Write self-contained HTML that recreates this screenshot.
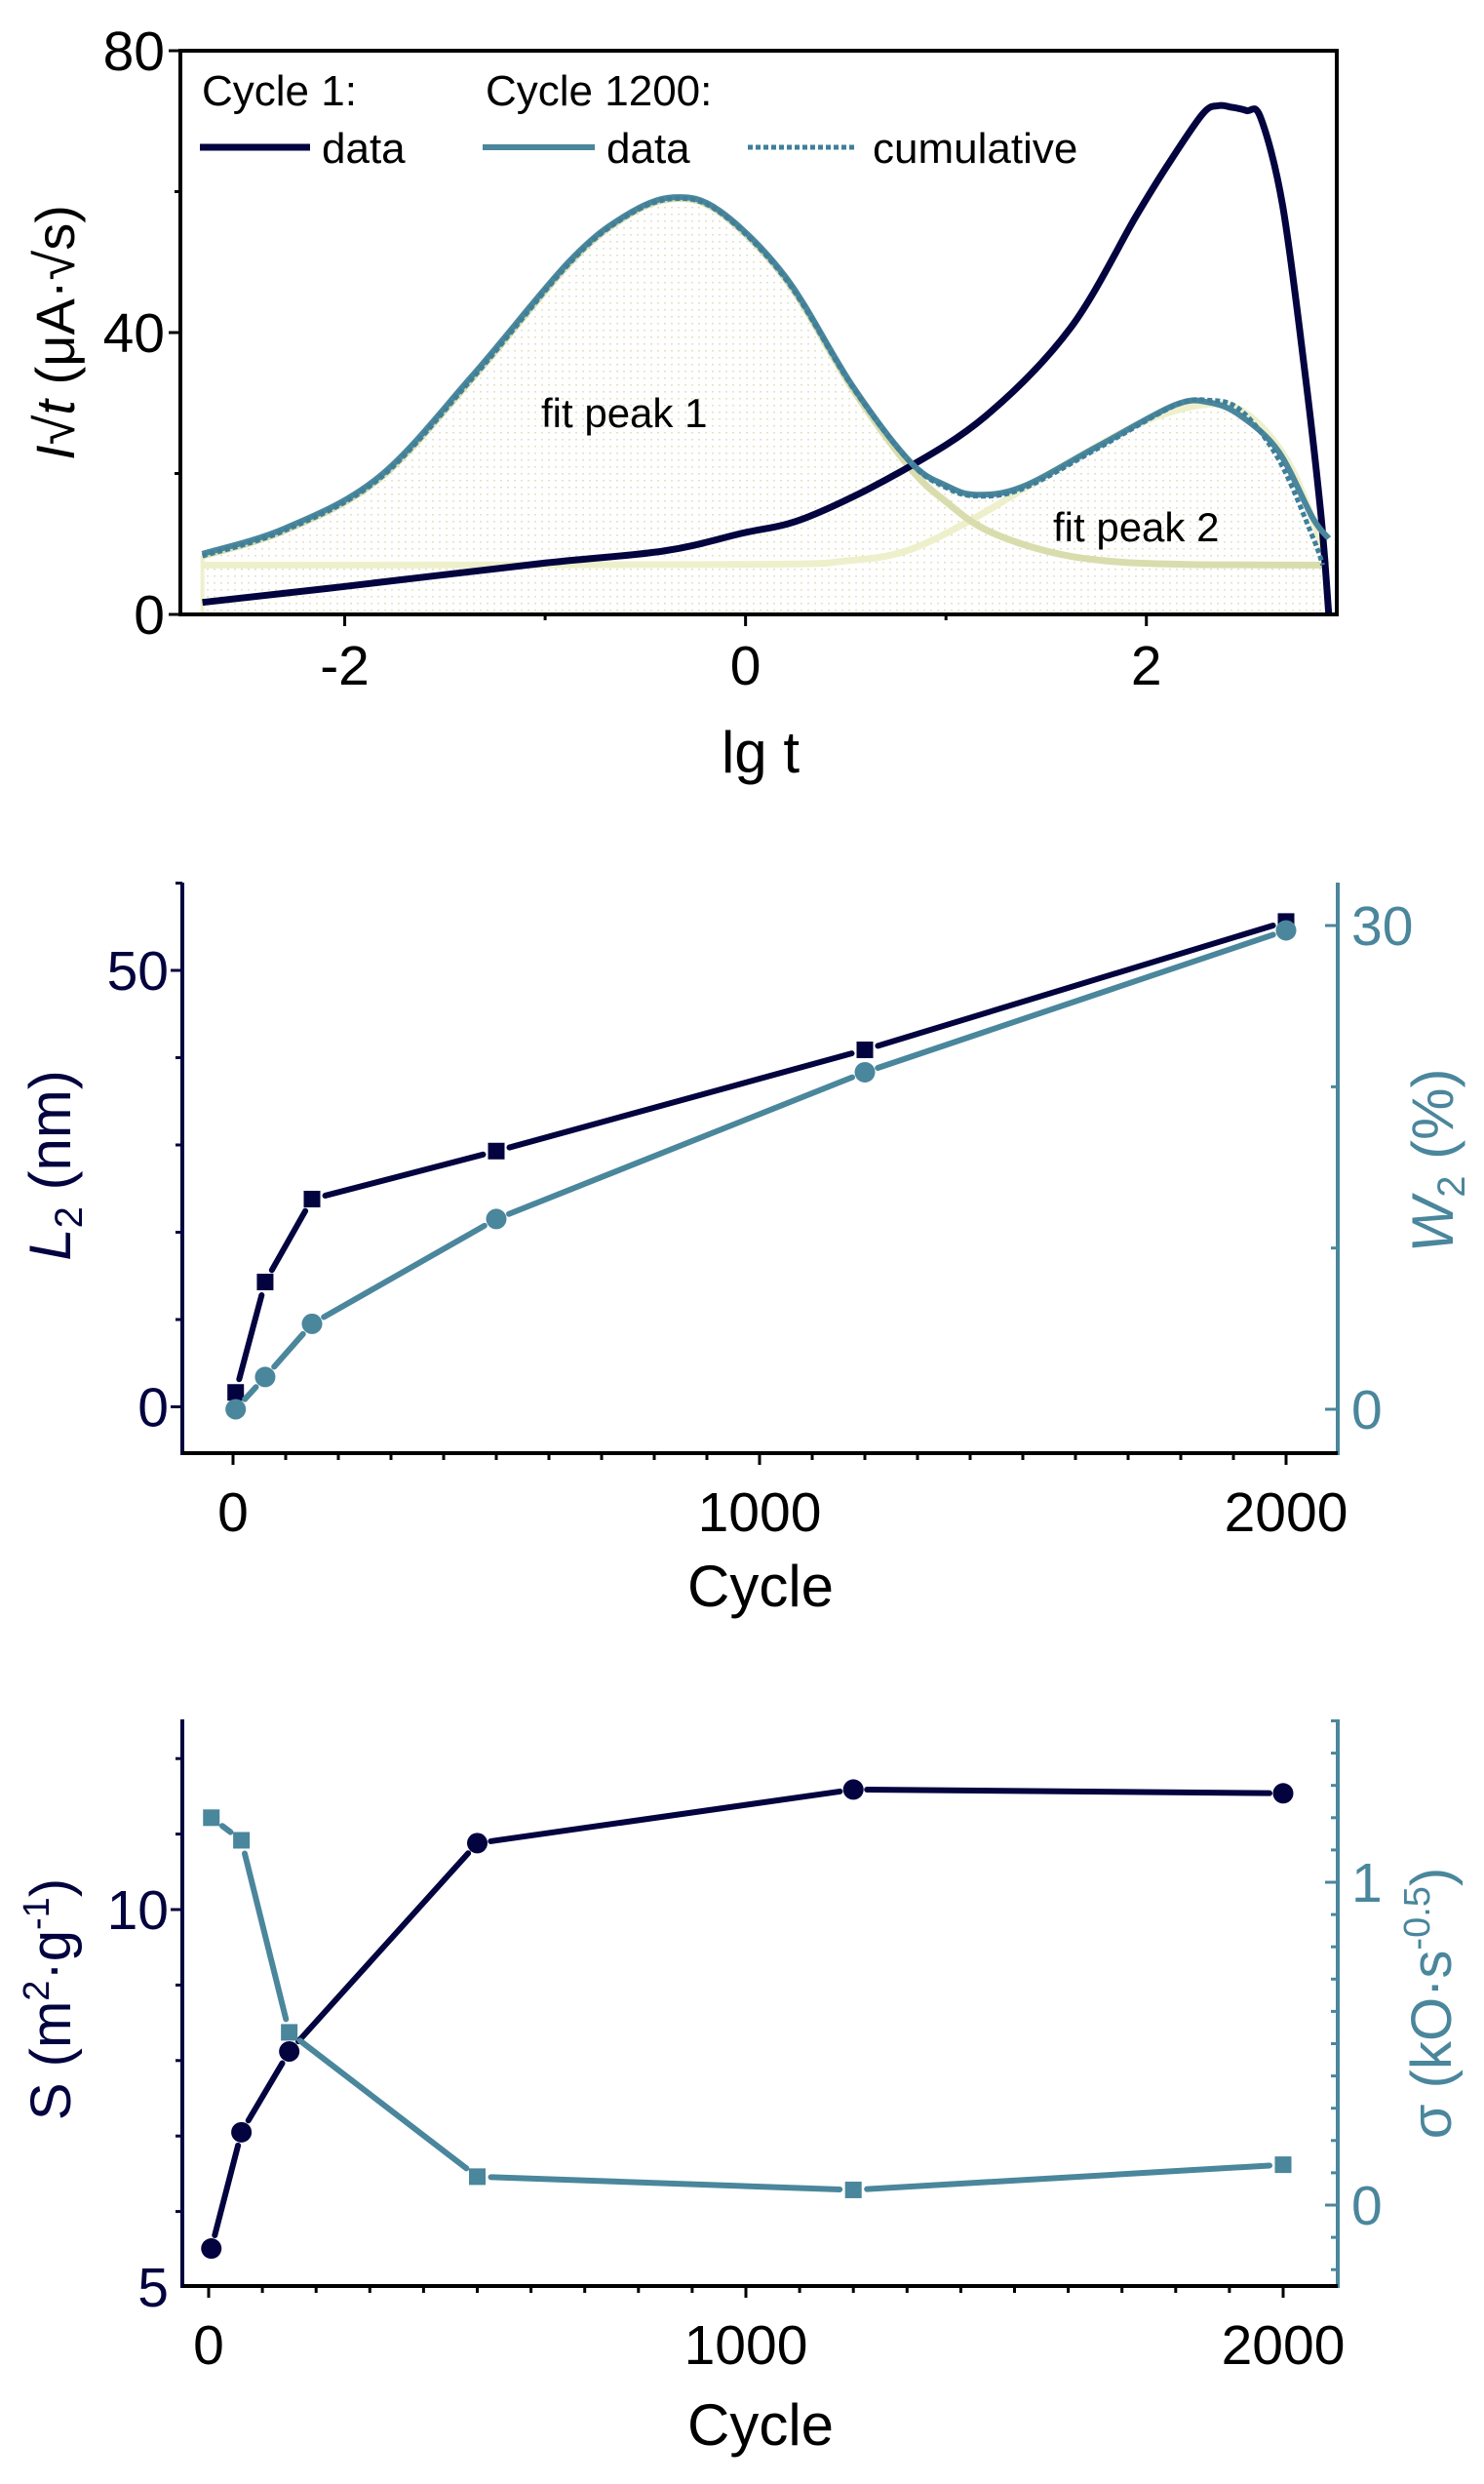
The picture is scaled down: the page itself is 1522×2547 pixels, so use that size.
<!DOCTYPE html>
<html><head><meta charset="utf-8">
<style>
html,body{margin:0;padding:0;background:#fff;}
svg{display:block;font-family:"Liberation Sans",Arial,sans-serif;}
</style></head>
<body>
<svg id="fig" width="1522" height="2547" viewBox="0 0 1522 2547" xmlns="http://www.w3.org/2000/svg">
<defs>
<pattern id="dots" width="7" height="7" patternUnits="userSpaceOnUse">
<rect x="2" y="2" width="2" height="1.5" fill="#e4e2c2"/>
</pattern>
</defs>
<g id="p1"></g>
<g id="p2"></g>
<g id="p3"></g>
</svg>
<script>
// ===== Panel 1 data (lg t, I*sqrt(t)) =====
const c1X = [-2.71,-2.02,-1.03,-0.41,-0.02,0.30,0.77,1.20,1.62,1.95,2.10,2.28,2.36,2.42,2.50,2.57,2.68,2.79,2.87,2.91];
const c1Y = [1.7,3.9,7.2,9.0,11.5,13.7,20.2,28.2,40.6,56.6,63.5,71.0,72.2,72.0,71.5,70.5,58.0,34.6,14.4,0];
const c1200X = [-2.71,-2.30,-1.83,-1.36,-0.88,-0.60,-0.36,-0.13,0.20,0.53,0.82,1.00,1.15,1.38,1.76,2.14,2.31,2.47,2.66,2.83,2.91];
const c1200Y = [8.6,12.2,19.5,34.0,50.1,56.6,59.2,57.3,47.9,32.6,21.7,18.3,17.0,18.1,23.9,29.7,30.1,28.2,23.1,13.7,10.8];
const cumX = [-2.71,-2.30,-1.83,-1.36,-0.88,-0.60,-0.36,-0.13,0.20,0.53,0.82,1.00,1.15,1.38,1.76,2.14,2.31,2.47,2.66,2.83,2.88];
const cumY = [8.3,11.9,19.2,33.6,49.8,56.4,59.0,57.1,47.6,32.4,21.6,18.0,16.8,17.8,23.6,29.6,30.4,29.0,22.0,11.0,7.0];
const fit1X = [-2.71,-2.30,-1.83,-1.36,-0.88,-0.60,-0.36,-0.13,0.20,0.53,0.82,1.00,1.20,1.50,1.80,2.20,2.90];
const fit1Y = [8.3,11.9,19.2,33.6,49.8,56.4,59.0,57.1,47.6,32.2,20.8,16.0,12.0,9.0,7.6,7.1,7.0];
const fit2X = [-2.71,0.00,0.50,0.80,1.10,1.40,1.70,2.00,2.30,2.50,2.70,2.85,2.90];
const fit2Y = [7.0,7.1,7.6,9.0,13.0,18.0,23.0,27.5,29.8,28.5,22.0,12.0,7.0];
const p1XTicks = [-2,0,2];
const p1YTicks = [0,40,80];

// ===== Panel 2 data =====
const p2Cycles = [5,61,150,500,1200,2000];
const l2Vals = [1.65,14.3,23.8,29.3,40.9,55.6];
const w2Cycles = [5,61,150,500,1200,2000];
const w2Vals = [0,2.0,5.3,11.8,20.9,29.7];
const p2XTicks = [0,1000,2000];
const p2LTicks = [0,50];
const p2RTicks = [0,30];

// ===== Panel 3 data =====
const sCycles = [5,61,150,500,1200,2000];
const sVals = [5.51,7.05,8.12,10.88,11.59,11.54];
const sigCycles = [5,61,150,500,1200,2000];
const sigVals = [1.20,1.13,0.535,0.088,0.047,0.125];
const p3XTicks = [0,1000,2000];
const p3LTicks = [5,10];
const p3RTicks = [0,1];

const NS="http://www.w3.org/2000/svg";
const NAVY="#03033f", TEAL="#4a869c";
function mk(parent,tag,attrs,text){const e=document.createElementNS(NS,tag);for(const k in attrs)e.setAttribute(k,attrs[k]);if(text!==undefined)e.textContent=text;parent.appendChild(e);return e;}
function lin(d0,d1,r0,r1){return v=>r0+(v-d0)*(r1-r0)/(d1-d0);}
function pathD(xs,ys,fx,fy){return xs.map((x,i)=>(i?'L':'M')+fx(x).toFixed(1)+' '+fy(ys[i]).toFixed(1)).join(' ');}
function smoothD(xs,ys,fx,fy){
  const p=xs.map((x,i)=>[fx(x),fy(ys[i])]);
  let d='M'+p[0][0].toFixed(1)+' '+p[0][1].toFixed(1);
  for(let i=0;i<p.length-1;i++){
    const p0=p[i-1]||p[i],p1=p[i],p2=p[i+1],p3=p[i+2]||p[i+1];
    const c1=[p1[0]+(p2[0]-p0[0])/6,p1[1]+(p2[1]-p0[1])/6];
    const c2=[p2[0]-(p3[0]-p1[0])/6,p2[1]-(p3[1]-p1[1])/6];
    d+=' C'+c1[0].toFixed(1)+' '+c1[1].toFixed(1)+' '+c2[0].toFixed(1)+' '+c2[1].toFixed(1)+' '+p2[0].toFixed(1)+' '+p2[1].toFixed(1);
  }
  return d;
}

// ---------- Panel 1 ----------
(function(){
const g=document.getElementById('p1');
const L=185,R=1371,T=52,B=630;
const fx=lin(-2.82,2.95,L,R), fy=lin(0,80,B,T);
let d=smoothD(cumX,cumY,fx,fy)+' L'+fx(2.88)+' '+fy(0)+' L'+fx(-2.71)+' '+fy(0)+' Z';
let e=mk(g,'path',{d:d,fill:'url(#dots)',stroke:'none'});

e=mk(g,'line',{x1:fx(-2.71),y1:fy(0),x2:fx(-2.71),y2:fy(8.3),stroke:'#eef0cc','stroke-width':4});

e=mk(g,'path',{d:smoothD(fit2X,fit2Y,fx,fy),fill:'none',stroke:'#eef0cc','stroke-width':7,'stroke-linejoin':'round'});

e=mk(g,'path',{d:smoothD(fit1X,fit1Y,fx,fy),fill:'none',stroke:'#d9ddad','stroke-width':7,'stroke-linejoin':'round'});

e=mk(g,'path',{d:smoothD(c1X,c1Y,fx,fy),fill:'none',stroke:NAVY,'stroke-width':7,'stroke-linejoin':'round'});

e=mk(g,'path',{d:smoothD(c1200X,c1200Y,fx,fy),fill:'none',stroke:TEAL,'stroke-width':6,'stroke-linejoin':'round'});

e=mk(g,'path',{d:smoothD(cumX,cumY,fx,fy),fill:'none',stroke:'#3f7f99','stroke-width':5,'stroke-dasharray':'5 3'});

e=mk(g,'rect',{x:L,y:T,width:R-L,height:B-T,fill:'none',stroke:'#000','stroke-width':4});

for(let v=0;v<=80;v+=20){const y=fy(v);const major=p1YTicks.includes(v);
e=mk(g,'line',{x1:L-(major?12:6),y1:y,x2:L,y2:y,stroke:'#000','stroke-width':3});
}
p1YTicks.forEach(v=>{e=mk(g,'text',{x:L-16,y:fy(v)+20,'font-size':57,'text-anchor':'end',fill:'#000'},String(v));
});
for(let v=-2;v<=2;v++){const x=fx(v);const major=p1XTicks.includes(v);
e=mk(g,'line',{x1:x,y1:B,x2:x,y2:B+(major?12:6),stroke:'#000','stroke-width':3});
}
p1XTicks.forEach(v=>{e=mk(g,'text',{x:fx(v),y:B+72,'font-size':57,'text-anchor':'middle',fill:'#000'},v<0?'-'+Math.abs(v):String(v));
});
e=mk(g,'text',{x:780,y:792,'font-size':60,'text-anchor':'middle',fill:'#000'},'lg t');

e=mk(g,'text',{x:0,y:0,'font-size':56,'text-anchor':'middle',fill:'#000',transform:'translate(76,341) rotate(-90)'});

e.innerHTML='<tspan font-style="italic">I</tspan>√<tspan font-style="italic">t</tspan>  (μA·√s)';
e=mk(g,'text',{x:207,y:108,'font-size':44,fill:'#000'},'Cycle 1:');
e=mk(g,'text',{x:498,y:108,'font-size':44,fill:'#000'},'Cycle 1200:');
e=mk(g,'line',{x1:205,y1:151,x2:318,y2:151,stroke:NAVY,'stroke-width':7});
e=mk(g,'text',{x:330,y:167,'font-size':44,fill:'#000'},'data');
e=mk(g,'line',{x1:495,y1:151,x2:610,y2:151,stroke:TEAL,'stroke-width':6});
e=mk(g,'text',{x:622,y:167,'font-size':44,fill:'#000'},'data');
e=mk(g,'line',{x1:767,y1:151,x2:879,y2:151,stroke:'#3f7f99','stroke-width':5,'stroke-dasharray':'5 3'});
e=mk(g,'text',{x:895,y:167,'font-size':44,fill:'#000'},'cumulative');
e=mk(g,'text',{x:555,y:438,'font-size':42,fill:'#000'},'fit peak 1');
e=mk(g,'text',{x:1080,y:555,'font-size':42,fill:'#000'},'fit peak 2');
})();

function dual(g,o){
const {L,R,T,B,x0px,x1000px}=o;
const fx=lin(0,1000,x0px,x1000px);
const fl=lin(o.lDom[0],o.lDom[1],o.lPx[0],o.lPx[1]);
const fr=lin(o.rDom[0],o.rDom[1],o.rPx[0],o.rPx[1]);
let e;
function series(xs,ys,fy,color,marker,name){
  const pts=xs.map((x,i)=>[fx(x),fy(ys[i])]);
  for(let i=0;i<pts.length-1;i++){
    const [ax,ay]=pts[i],[bx,by]=pts[i+1];const len=Math.hypot(bx-ax,by-ay);const gap=14;
    if(len<=2*gap)continue;const ux=(bx-ax)/len,uy=(by-ay)/len;
    e=mk(g,'line',{x1:ax+ux*gap,y1:ay+uy*gap,x2:bx-ux*gap,y2:by-uy*gap,stroke:color,'stroke-width':6,'stroke-linecap':'round'});
    
  }
  pts.forEach(([x,y])=>{
    if(marker==='sq'){e=mk(g,'rect',{x:x-8.5,y:y-8.5,width:17,height:17,fill:color});}
    else{e=mk(g,'ellipse',{cx:x,cy:y,rx:10.5,ry:10.5,fill:color});}
    
  });
}
series(o.s1x,o.s1y,fl,NAVY,o.m1,o.n1);
series(o.s2x,o.s2y,fr,TEAL,o.m2,o.n2);
e=mk(g,'line',{x1:L,y1:T,x2:L,y2:B+2,stroke:NAVY,'stroke-width':4});
e=mk(g,'line',{x1:R,y1:T,x2:R,y2:B+2,stroke:TEAL,'stroke-width':4});
e=mk(g,'line',{x1:L,y1:B,x2:R,y2:B,stroke:'#000','stroke-width':4});
for(let v=0;v<=2000;v+=100){const x=fx(v);if(x<L||x>R)continue;const major=v%1000===0;
 e=mk(g,'line',{x1:x,y1:B,x2:x,y2:B+(major?12:7),stroke:'#000','stroke-width':3});}
o.xTicks.forEach(v=>{e=mk(g,'text',{x:fx(v),y:B+80,'font-size':57,'text-anchor':'middle',fill:'#000'},String(v));});
for(let v=o.lMinor[0];v<=o.lMinor[1]+1e-9;v+=o.lMinor[2]){const y=fl(v);if(y<T||y>B)continue;const major=o.lTicks.some(t=>Math.abs(t-v)<1e-6);
 e=mk(g,'line',{x1:L-(major?12:7),y1:y,x2:L,y2:y,stroke:NAVY,'stroke-width':3});}
o.lTicks.forEach(v=>{e=mk(g,'text',{x:L-14,y:fl(v)+20,'font-size':57,'text-anchor':'end',fill:NAVY},String(v));});
for(let v=o.rMinor[0];v<=o.rMinor[1]+1e-9;v+=o.rMinor[2]){const y=fr(v);if(y<T||y>B)continue;const major=o.rTicks.some(t=>Math.abs(t-v)<1e-6);
 e=mk(g,'line',{x1:R-(major?13:7),y1:y,x2:R,y2:y,stroke:TEAL,'stroke-width':3});}
o.rTicks.forEach(v=>{e=mk(g,'text',{x:R+14,y:fr(v)+20,'font-size':57,'text-anchor':'start',fill:TEAL},String(v));});
e=mk(g,'text',{x:780,y:B+o.titleOff,'font-size':60,'text-anchor':'middle',fill:'#000'},'Cycle');
}

(function(){
const g=document.getElementById('p2');
dual(g,{L:187,R:1372,T:905,B:1490,x0px:239,x1000px:779,titleOff:157,
 lDom:[0,50],lPx:[1442.5,995],rDom:[0,30],rPx:[1445,949],
 s1x:p2Cycles,s1y:l2Vals,m1:'sq',n1:'l2',s2x:w2Cycles,s2y:w2Vals,m2:'ci',n2:'w2',
 xTicks:p2XTicks,lTicks:p2LTicks,rTicks:p2RTicks,lMinor:[0,60,10],rMinor:[0,30,10]});
let e=mk(g,'text',{x:0,y:0,'font-size':60,'text-anchor':'middle',fill:NAVY,transform:'translate(72,1195) rotate(-90)'});

e.innerHTML='<tspan font-style="italic">L</tspan><tspan font-size="40" dy="12">2</tspan><tspan dy="-12"> (nm)</tspan>';
e=mk(g,'text',{x:0,y:0,'font-size':60,'text-anchor':'middle',fill:TEAL,transform:'translate(1490,1190) rotate(-90)'});

e.innerHTML='<tspan font-style="italic">W</tspan><tspan font-size="40" dy="12">2</tspan><tspan dy="-12"> (%)</tspan>';
})();

(function(){
const g=document.getElementById('p3');
dual(g,{L:187,R:1372,T:1763,B:2344,x0px:214,x1000px:765,titleOff:163,
 lDom:[5,10],lPx:[2345,1958],rDom:[0,1],rPx:[2261,1930],
 s1x:sCycles,s1y:sVals,m1:'ci',n1:'s',s2x:sigCycles,s2y:sigVals,m2:'sq',n2:'sigma',
 xTicks:p3XTicks,lTicks:p3LTicks,rTicks:p3RTicks,lMinor:[5,12,1],rMinor:[-0.2,1.5,0.1]});
let e=mk(g,'text',{x:0,y:0,'font-size':58,'text-anchor':'middle',fill:NAVY,transform:'translate(72,2050) rotate(-90)'});

e.innerHTML='S (m<tspan font-size="38" dy="-22">2</tspan><tspan dy="22">·g</tspan><tspan font-size="38" dy="-22">-1</tspan><tspan dy="22">)</tspan>';
e=mk(g,'text',{x:0,y:0,'font-size':58,'text-anchor':'middle',fill:TEAL,transform:'translate(1488,2054) rotate(-90)'});

e.innerHTML='σ (kO·s<tspan font-size="38" dy="-22">-0.5</tspan><tspan dy="22">)</tspan>';
})();
</script>
</body></html>
